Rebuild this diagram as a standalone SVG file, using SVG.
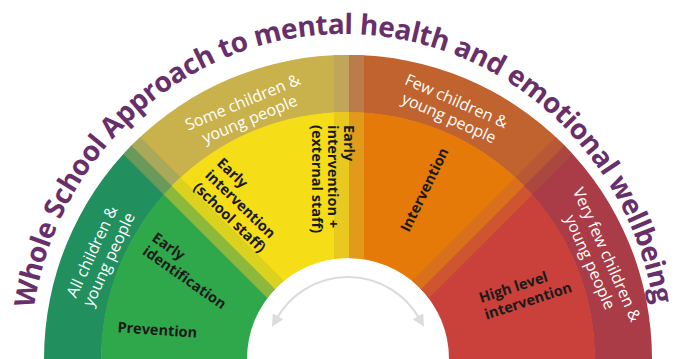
<svg xmlns="http://www.w3.org/2000/svg" xmlns:xlink="http://www.w3.org/1999/xlink" width="686" height="359" viewBox="0 0 686 359">
<style>
.t{font-family:"Open Sans","Liberation Sans",Arial,sans-serif}
.title{font-size:28px;font-weight:700;fill:#682f6a}
.outer{font-size:16px;font-weight:400;fill:#ffffff;text-anchor:middle}
.inner{font-size:14.5px;font-weight:700;fill:#1a1a1a}
.mid{text-anchor:middle}
.arrow{fill:none;stroke:#dcdcdc;stroke-width:2.2}
</style>
<defs>
<clipPath id="cOuter"><path clip-rule="evenodd" d="M44,359 A304,304 0 1 1 652,359 A304,304 0 1 1 44,359 Z M101.5,359 A246.5,246.5 0 1 1 594.5,359 A246.5,246.5 0 1 1 101.5,359 Z"/></clipPath>
<clipPath id="cInner"><path clip-rule="evenodd" d="M101,359 A247,247 0 1 1 595,359 A247,247 0 1 1 101,359 Z M247,359 A101,101 0 1 1 449,359 A101,101 0 1 1 247,359 Z"/></clipPath>
<polygon id="pGreen" points="346.94,360.06 -77.32,-64.2 -120,-64.2 -120,420 346.94,420"/>
<polygon id="sG1" points="338.10,368.90 -86.16,-55.36 -77.32,-64.20 346.94,360.06"/>
<polygon id="pYellow" points="346.59,360.41 -77.67,-63.85 -77.67,-241 349,-241 349,360.41"/>
<polygon id="sY0" points="346.59,360.41 -77.67,-63.85 -69.19,-72.33 355.07,351.93"/>
<polygon id="sY1" points="334,420 334,-241 349,-241 349,420"/>
<polygon id="pOrange" points="348.5,360.41 348.5,-241 773.67,-241 773.67,-63.85 349.41,360.41"/>
<polygon id="sO0" points="348.5,420 348.5,-241 364,-241 364,420"/>
<polygon id="sO1" points="340.93,351.93 765.19,-72.33 773.67,-63.85 349.41,360.41"/>
<polygon id="pRed" points="349.06,360.06 773.32,-64.2 773.32,420 349.06,420"/>
<polygon id="sR0" points="349.06,360.06 773.32,-64.2 782.16,-55.36 357.90,368.90"/>
<path id="titleArc" d="M 30 359 A 314 325 0 0 1 658 359"/>
<marker id="ah" viewBox="0 0 12 12" refX="2" refY="6" markerWidth="12" markerHeight="12" markerUnits="userSpaceOnUse" orient="auto-start-reverse"><path d="M0,0 L12,6 L0,12 Z" fill="#dcdcdc"/></marker>
</defs>

<g id="node-green">
<use href="#pGreen" clip-path="url(#cOuter)" fill="#228f5f"/>
<use href="#sG1" clip-path="url(#cOuter)" fill="#6a9a5b"/>
<use href="#pGreen" clip-path="url(#cInner)" fill="#2fa84c"/>
<use href="#sG1" clip-path="url(#cInner)" fill="#8cb83e"/>
<text class="t outer" transform="translate(97,254) rotate(-65)"><tspan x="0" y="0">All children &amp;</tspan><tspan x="0" dy="18.5">young people</tspan></text>
<text class="t inner" transform="translate(151,240) rotate(35)"><tspan x="0" y="0">Early</tspan><tspan x="0" dy="16.5">identification</tspan></text>
<text class="t inner mid" transform="translate(157,335) rotate(4)">Prevention</text>
</g>

<g id="node-red">
<use href="#pRed" clip-path="url(#cOuter)" fill="#a93c46"/>
<use href="#sR0" clip-path="url(#cOuter)" fill="#aa473e"/>
<use href="#pRed" clip-path="url(#cInner)" fill="#c9413a"/>
<use href="#sR0" clip-path="url(#cInner)" fill="#cd5631"/>
<text class="t outer" transform="translate(601.9,256.8) rotate(66)"><tspan x="0" y="0">Very few children &amp;</tspan><tspan x="0" dy="18.5">young people</tspan></text>
<text class="t inner" transform="translate(481,303) rotate(-18)"><tspan x="0" y="0">High level</tspan><tspan x="0" dy="17.5">intervention</tspan></text>
</g>

<g id="node-orange">
<use href="#pOrange" clip-path="url(#cOuter)" fill="#c1632f"/>
<use href="#sO0" clip-path="url(#cOuter)" fill="#b97c4a"/>
<use href="#sO1" clip-path="url(#cOuter)" fill="#b85834"/>
<use href="#pOrange" clip-path="url(#cInner)" fill="#e67a09"/>
<use href="#sO0" clip-path="url(#cInner)" fill="#e19a19"/>
<use href="#sO1" clip-path="url(#cInner)" fill="#d9701c"/>
<text class="t outer" transform="translate(454.2,106.1) rotate(24)"><tspan x="0" y="0">Few children &amp;</tspan><tspan x="0" dy="18.5">young people</tspan></text>
<text class="t inner mid" transform="translate(429,192) rotate(-64)">Intervention</text>
</g>

<g id="node-yellow">
<use href="#pYellow" clip-path="url(#cOuter)" fill="#c9b14c"/>
<use href="#sY0" clip-path="url(#cOuter)" fill="#a9a85b"/>
<use href="#sY1" clip-path="url(#cOuter)" fill="#bfa65a"/>
<use href="#pYellow" clip-path="url(#cInner)" fill="#f5de17"/>
<use href="#sY0" clip-path="url(#cInner)" fill="#dad21e"/>
<use href="#sY1" clip-path="url(#cInner)" fill="#e9c91f"/>
<text class="t outer" transform="translate(244.7,107.2) rotate(-22.5)"><tspan x="0" y="0">Some children &amp;</tspan><tspan x="0" dy="18.5">young people</tspan></text>
<text class="t inner" transform="translate(216,164) rotate(44)"><tspan x="0" y="0">Early</tspan><tspan x="0" dy="17">intervention</tspan><tspan x="0" dy="17">(school staff)</tspan></text>
<text class="t inner" transform="translate(344,125) rotate(90)"><tspan x="0" y="0">Early</tspan><tspan x="0" dy="16">intervention +</tspan><tspan x="0" dy="16">(external staff)</tspan></text>
</g>

<g id="connectors">
<path class="arrow" d="M 277,318 A 82 82 0 0 1 419,318" marker-start="url(#ah)" marker-end="url(#ah)"/>
</g>

<g id="title">
<text class="t title"><textPath href="#titleArc" startOffset="49.8%" text-anchor="middle" textLength="898" lengthAdjust="spacing">Whole School Approach to mental health and emotional wellbeing</textPath></text>
</g>
</svg>
